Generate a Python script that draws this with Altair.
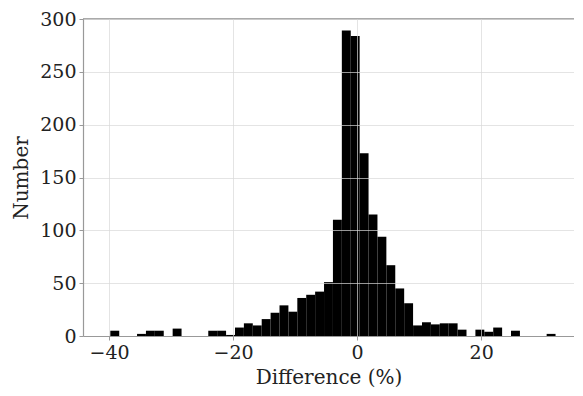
import altair as alt
import pandas as pd

# Histogram of differences (%): 50 equal bins
bin_start = -39.8
bin_width = 1.436
counts = [5, 0, 0, 2, 5, 5, 0, 7, 0, 0,
          0, 5, 5, 1, 8, 12, 10, 16, 22, 29,
          23, 36, 39, 42, 51, 110, 289, 284, 173, 115,
          94, 67, 45, 31, 10, 13, 11, 12, 12, 6,
          0, 6, 4, 8, 0, 5, 0, 0, 0, 2]
x_ticks = [-40, -20, 0, 20]
y_ticks = [0, 50, 100, 150, 200, 250, 300]

df = pd.DataFrame({
    "lo": [bin_start + i * bin_width for i in range(len(counts))],
    "hi": [bin_start + (i + 1) * bin_width for i in range(len(counts))],
    "n": counts,
})

FONT = "DejaVu Serif"
W, H = 491, 317

bars = alt.Chart(df).mark_bar(color="black", strokeWidth=0, orient="vertical").encode(
    x=alt.X("lo:Q",
            scale=alt.Scale(domain=[-43.4, 34.17], nice=False, zero=False),
            axis=alt.Axis(values=x_ticks, title="Difference (%)", format="d",
                          zindex=1, titleBaseline="alphabetic", titleY=47)),
    x2="hi:Q",
    y=alt.Y("n:Q",
            scale=alt.Scale(domain=[0, 300], nice=False),
            axis=alt.Axis(values=y_ticks, title="Number", zindex=1,
                          titleBaseline="alphabetic", titleX=-56)),
    y2=alt.datum(0),
)

top = alt.Chart(df).mark_rule(color="#aaaaaa", strokeWidth=1.5).encode(
    x=alt.value(0), x2=alt.value(W), y=alt.value(0)
)

chart = alt.layer(bars, top).properties(
    width=W, height=H,
    autosize=alt.AutoSizeParams(type="none"),
    padding={"left": 75, "top": 11, "right": 0, "bottom": 52},
).configure_view(stroke=None).configure_axis(
    labelFont=FONT, titleFont=FONT, labelFontSize=19, titleFontSize=20,
    labelColor="#222222", titleColor="#222222", titleFontWeight="normal",
    domainColor="#999999", domainWidth=1.2, tickColor="#999999", tickSize=4,
    tickWidth=1, labelPadding=3, gridColor="#d8d8d8", gridWidth=0.7,
)

chart.save("out.html", embed_options={"renderer": "svg", "actions": False})
